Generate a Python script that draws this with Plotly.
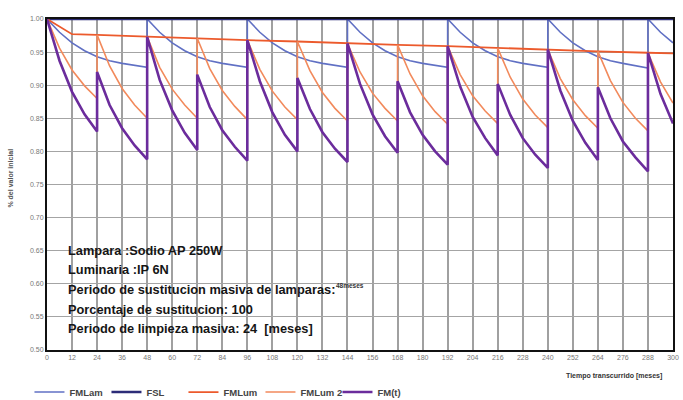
import plotly.graph_objects as go

# Sampling step inside each maintenance segment (months)
STEP = 6

# Luminaire cleaning instants (every 24 months) and FMLum 2 / FM(t) per segment
clean_months = [0, 24, 48, 72, 96, 120, 144, 168, 192, 216, 240, 264, 288]
fmlum2_segments = [
    [1.000, 0.956, 0.923, 0.899, 0.880],
    [0.976, 0.929, 0.895, 0.870, 0.850],
    [0.973, 0.927, 0.894, 0.870, 0.850],
    [0.971, 0.925, 0.892, 0.868, 0.848],
    [0.968, 0.924, 0.891, 0.867, 0.848],
    [0.966, 0.922, 0.889, 0.865, 0.846],
    [0.963, 0.920, 0.888, 0.865, 0.846],
    [0.961, 0.917, 0.884, 0.860, 0.841],
    [0.959, 0.916, 0.884, 0.861, 0.842],
    [0.956, 0.912, 0.879, 0.855, 0.836],
    [0.954, 0.910, 0.878, 0.854, 0.835],
    [0.951, 0.907, 0.874, 0.850, 0.831],
    [0.949, 0.905, 0.873],
]
fm_segments = [
    [1.000, 0.937, 0.890, 0.856, 0.830],
    [0.920, 0.870, 0.835, 0.809, 0.788],
    [0.973, 0.908, 0.862, 0.828, 0.802],
    [0.916, 0.867, 0.832, 0.807, 0.786],
    [0.968, 0.906, 0.859, 0.825, 0.800],
    [0.911, 0.864, 0.829, 0.804, 0.784],
    [0.963, 0.902, 0.856, 0.823, 0.798],
    [0.906, 0.859, 0.825, 0.800, 0.780],
    [0.959, 0.898, 0.852, 0.820, 0.794],
    [0.902, 0.855, 0.820, 0.795, 0.775],
    [0.954, 0.892, 0.846, 0.813, 0.787],
    [0.897, 0.850, 0.815, 0.791, 0.770],
    [0.949, 0.887, 0.842],
]

# Group lamp replacement instants (every 48 months) and FMLam per period
relamp_months = [0, 48, 96, 144, 192, 240, 288]
fmlam_segments = [
    [1.000, 0.980, 0.964, 0.952, 0.943, 0.937, 0.933, 0.930, 0.927],
    [1.000, 0.980, 0.964, 0.952, 0.943, 0.937, 0.933, 0.930, 0.927],
    [1.000, 0.980, 0.964, 0.952, 0.943, 0.937, 0.933, 0.930, 0.927],
    [1.000, 0.980, 0.964, 0.952, 0.943, 0.937, 0.933, 0.930, 0.927],
    [1.000, 0.980, 0.964, 0.952, 0.943, 0.937, 0.933, 0.930, 0.927],
    [1.000, 0.980, 0.964, 0.952, 0.943, 0.937, 0.933, 0.930, 0.926],
    [1.000, 0.980, 0.964],
]

# Luminaire maintenance envelope after each cleaning
fmlum_months = [0, 12, 24, 48, 72, 96, 120, 144, 168, 192, 216, 240, 264, 288, 300]
fmlum_values = [1.000, 0.977, 0.976, 0.973, 0.971, 0.968, 0.966, 0.963,
                0.961, 0.959, 0.956, 0.954, 0.951, 0.949, 0.948]

# Lamp survival factor (100 % group replacement)
fsl_months = [0, 300]
fsl_values = [1.000, 1.000]

x_ticks = list(range(0, 301, 12))
y_ticks = [1.00, 0.95, 0.90, 0.85, 0.80, 0.75, 0.70, 0.65, 0.60, 0.55, 0.50]

info_lines = [
    "Lampara :Sodio AP 250W",
    "Luminaria :IP 6N",
    "Periodo de sustitucion masiva de lamparas:",
    "Porcentaje de sustitucion: 100",
    "Periodo de limpieza masiva: 24  [meses]",
]


def unroll(starts, segments):
    xs, ys = [], []
    for start, seg in zip(starts, segments):
        for k, v in enumerate(seg):
            xs.append(start + STEP * k)
            ys.append(v)
    return xs, ys


FONT = "Liberation Sans, Arial, sans-serif"

fig = go.Figure()

x_lam, y_lam = unroll(relamp_months, fmlam_segments)
x_l2, y_l2 = unroll(clean_months, fmlum2_segments)
x_fm, y_fm = unroll(clean_months, fm_segments)

fig.add_trace(go.Scatter(x=x_lam, y=y_lam, mode="lines", name="<b>FMLam</b>",
                         line=dict(color="#6070c4", width=1.6)))
fig.add_trace(go.Scatter(x=fsl_months, y=fsl_values, mode="lines", name="<b>FSL</b>",
                         line=dict(color="#2c2c78", width=2.5)))
fig.add_trace(go.Scatter(x=fmlum_months, y=fmlum_values, mode="lines", name="<b>FMLum</b>",
                         line=dict(color="#ec5a2c", width=1.8)))
fig.add_trace(go.Scatter(x=x_l2, y=y_l2, mode="lines", name="<b>FMLum 2</b>",
                         line=dict(color="#f28a5c", width=1.6)))
fig.add_trace(go.Scatter(x=x_fm, y=y_fm, mode="lines", name="<b>FM(t)</b>",
                         line=dict(color="#6b2c9c", width=2.6)))

annotations = []
text_y = [0.651, 0.621, 0.591, 0.561, 0.532]
for line, yv in zip(info_lines, text_y):
    annotations.append(dict(x=0.031, xref="paper", y=yv, yref="y", text="<b>%s</b>" % line,
                            showarrow=False, xanchor="left", yanchor="middle",
                            font=dict(family=FONT, size=12.8, color="#151515")))
annotations.append(dict(x=0.458, xref="paper", y=0.597, yref="y", text="<b>48meses</b>",
                        showarrow=False, xanchor="left", yanchor="middle",
                        font=dict(family=FONT, size=6.5, color="#333333")))
annotations.append(dict(x=-0.058, xref="paper", y=0.52, yref="paper",
                        text="<b>% del valor inicial</b>", textangle=-90, showarrow=False,
                        xanchor="center", yanchor="middle",
                        font=dict(family=FONT, size=7, color="#555555")))
annotations.append(dict(x=0.985, xref="paper", y=-0.078, yref="paper",
                        text="<b>Tiempo transcurrido [meses]</b>", showarrow=False,
                        xanchor="right", yanchor="middle",
                        font=dict(family=FONT, size=7, color="#333333")))

fig.update_layout(
    width=683, height=400,
    margin=dict(l=47, r=10, t=19, b=50, autoexpand=False),
    paper_bgcolor="white", plot_bgcolor="white",
    showlegend=True,
    legend=dict(orientation="h", x=-0.028, y=-0.127, xanchor="left", yanchor="middle",
                font=dict(family=FONT, size=9.5, color="#444444"),
                itemwidth=30, entrywidth=32, entrywidthmode="pixels",
                bgcolor="rgba(0,0,0,0)"),
    annotations=annotations,
    xaxis=dict(range=[0, 300], tickvals=x_ticks, ticktext=[str(v) for v in x_ticks],
               showgrid=True, gridcolor="#a0a0a0", gridwidth=1.5,
               showline=True, linecolor="#111111", linewidth=2, mirror=True,
               zeroline=False, ticks="",
               tickfont=dict(family=FONT, size=7, color="#777777")),
    yaxis=dict(range=[0.5, 1.0], tickvals=y_ticks, ticktext=["%.2f" % v for v in y_ticks],
               showgrid=True, gridcolor="#a4a4a4", gridwidth=1.2,
               showline=True, linecolor="#111111", linewidth=2, mirror=True,
               zeroline=False, ticks="",
               tickfont=dict(family=FONT, size=7, color="#777777")),
)

fig.write_html("out.html")
